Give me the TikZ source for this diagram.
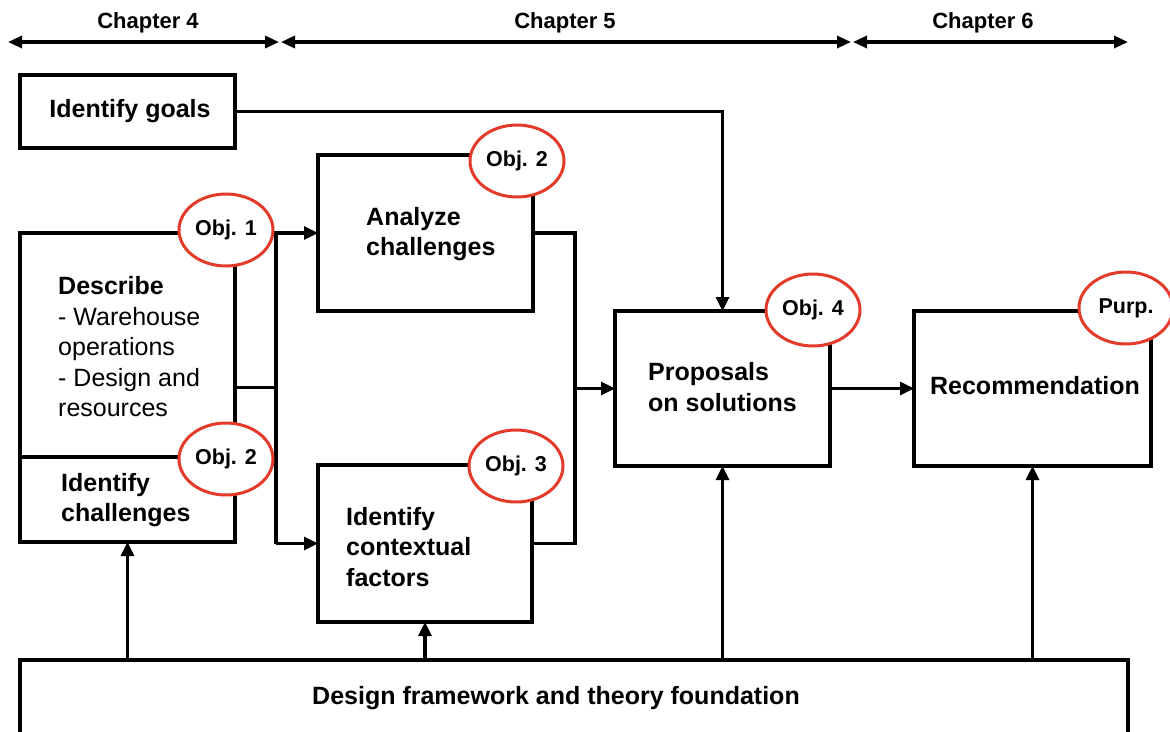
\documentclass[tikz,border=0pt]{standalone}
\usepackage{fontspec}
\setmainfont{Liberation Sans}
\usetikzlibrary{arrows.meta,shapes.geometric}
\definecolor{objred}{RGB}{228,58,42}
\begin{document}
\begin{tikzpicture}[x=1pt,y=-1pt,
  box/.style={draw, line width=3.2pt, fill=white, inner sep=0pt, outer sep=0pt, anchor=north west},
  conn/.style={line width=3.2pt},
  arr/.style={line width=3.2pt, -{Triangle[length=14pt,width=13pt]}},
  span/.style={line width=3.2pt, {Triangle[length=14pt,width=12pt]}-{Triangle[length=14pt,width=12pt]}},
  objmark/.style={ellipse, draw=objred, line width=3pt, fill=white,
    minimum width=94pt, minimum height=72pt, inner sep=0pt,
    font=\fontsize{21.5}{24}\selectfont\bfseries},
  lbl/.style={font=\fontsize{25}{30.5}\selectfont\bfseries, inner sep=0pt, align=left},
  plain/.style={font=\fontsize{25}{30.5}\selectfont, inner sep=0pt, align=left},
  chap/.style={font=\fontsize{22}{26}\selectfont\bfseries, inner sep=0pt},
]
\useasboundingbox (0,0) rectangle (1170,731);

% chapter spans
\coordinate (c0) at (8,42);
\coordinate (c1a) at (279,42);
\coordinate (c1b) at (281,42);
\coordinate (c2a) at (851,42);
\coordinate (c2b) at (853,42);
\coordinate (c3) at (1128,42);
\draw[span] (c0) -- (c1a);
\draw[span] (c1b) -- (c2a);
\draw[span] (c2b) -- (c3);
\node[chap] (ch4) at (148,23) {Chapter 4};
\node[chap] (ch5) at (565,23) {Chapter 5};
\node[chap] (ch6) at (983,23) {Chapter 6};

% boxes
\node[box, minimum width=215pt, minimum height=73pt] (goals) at (20,75) {};
\node[box, minimum width=215pt, minimum height=309pt] (describe) at (20,233) {};
\node[box, minimum width=215pt, minimum height=85pt] (idch) at (20,457) {};
\node[box, minimum width=215pt, minimum height=156pt] (analyze) at (318,155) {};
\node[box, minimum width=214pt, minimum height=157pt] (context) at (318,465) {};
\node[box, minimum width=215pt, minimum height=155pt] (proposals) at (615,311) {};
\node[box, minimum width=237pt, minimum height=155pt] (recomm) at (914,311) {};
\node[box, minimum width=1108pt, minimum height=120pt] (base) at (20,660) {};

% box texts
\node[lbl] (tgoals) at (130,111) {Identify goals};
\node[plain, anchor=west] (tdescribe) at (58,347)
  {\textbf{Describe}\\- Warehouse\\operations\\- Design and\\resources};
\node[lbl, anchor=west] (tidch) at (61,500) {Identify\\challenges};
\node[lbl, anchor=west] (tanalyze) at (366,234) {Analyze\\challenges};
\node[lbl, anchor=west] (tcontext) at (346,547) {Identify\\contextual\\factors};
\node[lbl, anchor=west] (tproposals) at (648,387) {Proposals\\on solutions};
\node[lbl] (trecomm) at (1035,386) {Recommendation};
\node[lbl] (tbase) at (556,698) {Design framework and theory foundation};

% goals feed the proposals
\draw[arr] (goals.east) -| (proposals.north);

% left bus
\coordinate (ltop) at (276,233);
\coordinate (lbot) at (276,543.5);
\draw[conn] (describe.north east) -- (ltop);
\draw[conn] (ltop) -- (lbot);
\draw[conn] (describe.east) -- (describe.east -| ltop);
\draw[arr] (ltop) -- (analyze.west);
\draw[arr] (lbot) -- (context.west);

% right bus
\coordinate (rtop) at (575,233);
\coordinate (rbot) at (575,543.5);
\draw[conn] (analyze.east) -- (rtop) -- (rbot) -- (context.east);
\draw[arr] (rtop |- proposals.west) -- (proposals.west);

\draw[arr] (proposals.east) -- (recomm.west);

% foundation arrows
\draw[arr] (base.north -| idch.south) -- (idch.south);
\draw[arr] (base.north -| context.south) -- (context.south);
\draw[arr] (base.north -| proposals.south) -- (proposals.south);
\draw[arr] (base.north -| recomm.south) -- (recomm.south);

% objective marks
\node[objmark] (o1) at (226,230) {Obj. 1};
\node[objmark] (o2a) at (226,459) {Obj. 2};
\node[objmark] (o2b) at (517,161) {Obj. 2};
\node[objmark] (o3) at (516,466) {Obj. 3};
\node[objmark] (o4) at (813,310) {Obj. 4};
\node[objmark] (op) at (1126,308) {Purp.};
\end{tikzpicture}
\end{document}
